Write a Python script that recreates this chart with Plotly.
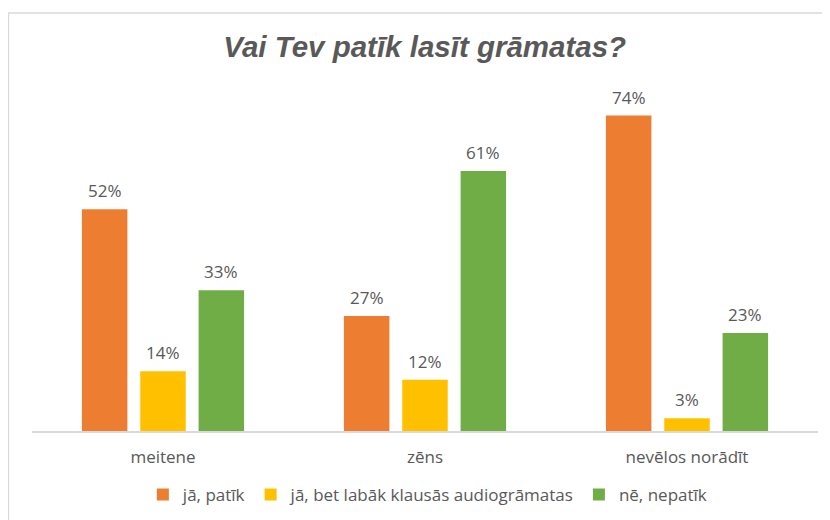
import plotly.graph_objects as go

categories = ["meitene", "zēns", "nevēlos norādīt"]
series_names = ["jā, patīk", "jā, bet labāk klausās audiogrāmatas", "nē, nepatīk"]
val_patik = [52, 27, 74]
val_audio = [14, 12, 3]
val_nepatik = [33, 61, 23]
colors = ["#ED7D31", "#FFC000", "#70AD47"]

txt = "#595959"
font_fam = "'Open Sans', Lato, sans-serif"

# the page body has an 8px margin, so the figure is shrunk to fit the window
W, H = 822, 512
ML, MR, MT, MB = 24, 12, 82, 89
BARGAP, BARGROUPGAP = 0.332, 0.22

fig = go.Figure()
all_vals = [val_patik, val_audio, val_nepatik]
for name, vals, col in zip(series_names, all_vals, colors):
    fig.add_trace(go.Bar(
        x=categories, y=vals, name=name, marker_color=col,
        marker_line_width=0, cliponaxis=False,
    ))

# data labels placed above each bar via the axes
plot_w = W - ML - MR
slot = plot_w / len(categories) * (1 - BARGAP) / len(all_vals)
annotations = []
for i, vals in enumerate(all_vals):
    for cat, v in zip(categories, vals):
        annotations.append(dict(
            x=cat, y=v, xref="x", yref="y", text=f"{v}%", showarrow=False,
            xshift=(i - 1) * slot, yshift=5, yanchor="bottom",
            font=dict(color=txt, size=17, family=font_fam)))

fig.update_layout(
    width=W, height=H,
    margin=dict(l=ML, r=MR, t=MT, b=MB, autoexpand=False),
    paper_bgcolor="white", plot_bgcolor="white",
    barmode="group", bargap=BARGAP, bargroupgap=BARGROUPGAP,
    title=dict(text="<b><i>Vai Tev patīk lasīt grāmatas?</i></b>",
               x=0.507, xanchor="center", y=0.924, yanchor="middle",
               font=dict(family="Liberation Sans, Arial, sans-serif", size=29.5, color=txt)),
    showlegend=True,
    legend=dict(orientation="h", x=0.503, xanchor="center",
                y=-0.1877, yanchor="middle",
                font=dict(color=txt, size=17, family=font_fam), itemwidth=30,
                traceorder="normal"),
    font=dict(family=font_fam, color=txt),
    annotations=annotations,
    shapes=[dict(type="rect", xref="paper", yref="paper",
                 x0=-0.03, x1=1.2, y0=-0.6, y1=1.2258,
                 line=dict(color="#D9D9D9", width=1.5), fillcolor="rgba(0,0,0,0)", layer="below")],
)
fig.update_xaxes(showline=True, linecolor="#D9D9D9", linewidth=1.5, showgrid=False,
                 ticks="", tickfont=dict(size=17, color=txt, family=font_fam),
                 ticklabelstandoff=10)
fig.update_yaxes(visible=False, range=[0, 80], showgrid=False)

fig.write_html("out.html")
